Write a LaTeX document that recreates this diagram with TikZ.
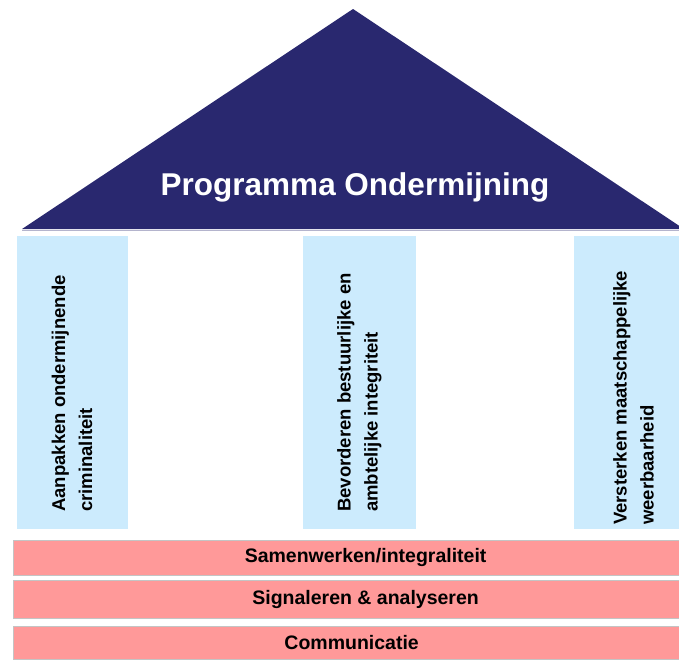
\documentclass[tikz,border=0pt]{standalone}
\usepackage{fontspec}
\setmainfont{Liberation Sans}
\definecolor{roofnavy}{HTML}{29286F}
\definecolor{pillarblue}{HTML}{CCEBFD}
\definecolor{barpink}{HTML}{FF9999}
\definecolor{bargrey}{HTML}{C4C4C4}
\tikzset{
  pillar/.style={fill=pillarblue, draw=none, anchor=north west, inner sep=0pt},
  pillartext/.style={rotate=90, anchor=base west, align=left, inner sep=0pt,
    font=\bfseries\fontsize{18.5}{27}\selectfont},
  bar/.style={fill=barpink, draw=bargrey, line width=1.2pt, anchor=north west, inner sep=0pt,
    font=\bfseries\fontsize{19.5}{22}\selectfont},
  titletext/.style={text=white, inner sep=0pt, anchor=base,
    font=\bfseries\fontsize{31.5}{34}\selectfont}
}
\begin{document}
\begin{tikzpicture}[x=1pt,y=-1pt]
\useasboundingbox (0,0) rectangle (679,659);
\clip (0,0) rectangle (679,659);
% roof
\fill[roofnavy] (22,229) -- (353,9) -- (684,229) -- cycle;
\draw[color=roofnavy!35, line width=1pt] (22,230) -- (684,230);
\node[titletext] (title) at (355,195) {Programma Ondermijning};
% pillars
\node[pillar, minimum width=111pt, minimum height=293pt] (p1) at (17,236) {};
\node[pillar, minimum width=113pt, minimum height=293pt] (p2) at (303,236) {};
\node[pillar, minimum width=120pt, minimum height=293pt] (p3) at (574,236) {};
\node[pillartext] (t1) at (92,512) {Aanpakken ondermijnende\\criminaliteit};
\node[pillartext] (t2) at (377.5,512) {Bevorderen bestuurlijke en\\ambtelijke integriteit};
\node[pillartext] (t3) at (653.5,525) {Versterken maatschappelijke\\weerbaarheid};
% bars
\node[bar, minimum width=704pt, minimum height=35.5pt] (b1) at (13,539.5) {Samenwerken/integraliteit};
\node[bar, minimum width=704pt, minimum height=38pt] (b2) at (13,579.5) {Signaleren \& analyseren};
\node[bar, minimum width=676pt, minimum height=33pt] (b3) at (13,625.5) {Communicatie};
\end{tikzpicture}
\end{document}
